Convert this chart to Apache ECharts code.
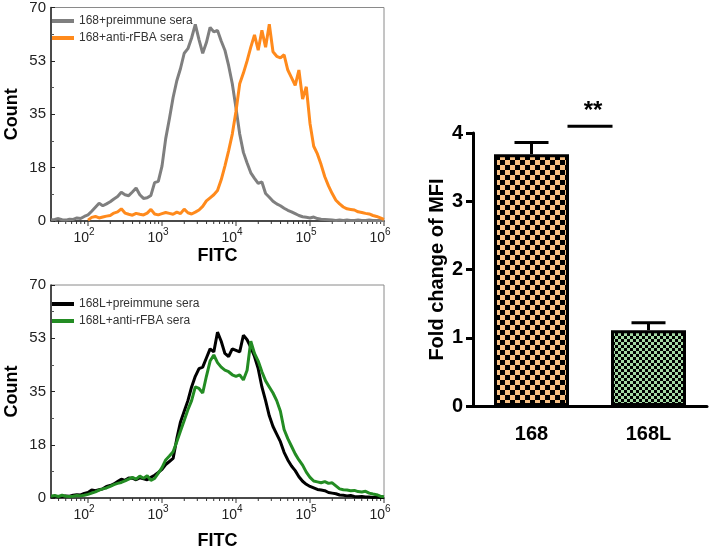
<!DOCTYPE html>
<html>
<head>
<meta charset="utf-8">
<script src="https://cdn.jsdelivr.net/npm/echarts@6.0.0/dist/echarts.min.js"></script>
<style>
    html, body { margin: 0; padding: 0; background: #fff; }
    #main { width: 711px; height: 554px; }
</style>
</head>
<body>
<div id="main"></div>
<script>
// FITC 通道 (log10 值)
const fitcLog = [1.5,1.55,1.6,1.65,1.7,1.75,1.8,1.85,1.9,1.95,
    2,2.05,2.1,2.15,2.2,2.25,2.3,2.35,2.4,2.45,
    2.5,2.55,2.6,2.65,2.7,2.75,2.8,2.85,2.9,2.95,
    3,3.05,3.1,3.15,3.2,3.25,3.3,3.35,3.4,3.45,
    3.5,3.55,3.6,3.65,3.7,3.75,3.8,3.85,3.9,3.95,
    4,4.05,4.1,4.15,4.2,4.25,4.3,4.35,4.4,4.45,
    4.5,4.55,4.6,4.65,4.7,4.75,4.8,4.85,4.9,4.95,
    5,5.05,5.1,5.15,5.2,5.25,5.3,5.35,5.4,5.45,
    5.5,5.55,5.6,5.65,5.7,5.75,5.8,5.85,5.9,5.95,6];

// 168 + preimmune sera
const pre168 = [0.3,0.5,0.8,0.4,0.3,0.6,0.5,1.0,0.8,1.5,
    2.0,3.2,4.5,5.8,5.0,5.6,6.3,7.2,8.0,9.4,
    8.6,8.3,9.5,10.8,8.6,7.4,7.6,8.4,12.6,13.0,
    18.0,27.0,33.5,40.5,46.0,50.0,55.0,56.5,60.0,64.5,
    59.5,55.0,58.5,63.5,62.0,62.5,59.0,56.0,51.0,45.0,
    37.0,28.5,22.5,19.0,15.8,14.0,12.3,12.8,9.0,7.8,
    6.5,5.6,5.0,4.2,3.5,3.0,2.4,1.8,1.4,1.2,
    1.0,1.3,0.8,0.6,0.5,0.4,0.3,0.2,0.3,0.2,
    0.3,0.2,0.2,0.3,0.2,0.2,0.3,0.2,0.2,0.2,0.2];

// 168 + anti-rFBA sera
const anti168 = [null,null,null,null,null,null,null,null,null,null,
    0.3,1.2,1.5,1.0,1.3,1.6,1.8,2.6,3.0,4.0,
    2.6,2.2,1.9,2.5,2.2,2.0,2.6,3.8,2.3,2.0,
    2.4,2.8,2.5,2.2,2.9,2.4,3.9,2.7,2.3,2.9,
    3.6,4.8,6.6,7.6,8.6,10.0,13.5,18.0,23.0,28.5,
    36.0,45.0,48.5,52.5,57.0,61.0,56.0,62.5,57.0,64.5,
    55.5,54.0,53.5,54.5,49.5,47.0,44.5,49.5,40.0,44.0,
    32.0,24.5,22.0,18.5,14.5,11.5,9.0,6.8,5.6,4.6,
    4.0,3.8,3.6,3.0,2.8,2.5,2.3,1.8,1.5,1.0,0.5];

// 168L + preimmune sera
const pre168L = [0.5,0.6,0.4,0.5,0.7,0.6,0.9,1.1,1.0,1.5,
    1.8,2.6,2.4,2.7,3.0,3.8,4.1,4.6,5.4,6.2,
    5.8,6.6,6.5,6.0,6.6,6.3,6.0,6.8,7.5,8.4,
    9.4,11.0,12.0,13.0,19.5,25.0,28.5,32.0,36.5,40.0,
    42.5,43.0,46.0,49.0,48.0,54.5,51.5,47.5,46.5,49.0,
    48.5,48.0,53.5,52.0,49.5,46.5,42.5,36.5,32.0,27.0,
    23.5,21.0,18.5,15.0,12.5,10.5,9.0,7.0,5.5,4.5,
    3.8,3.3,2.8,2.6,2.4,1.8,1.6,1.4,1.0,0.9,
    0.7,0.8,0.5,0.4,0.5,0.3,0.3,0.2,0.3,0.2,0.2];

// 168L + anti-rFBA sera
const anti168L = [0.6,0.8,0.5,0.9,0.6,0.5,0.6,0.8,0.7,0.9,
    1.2,1.6,2.0,2.6,3.0,3.3,3.8,4.4,4.8,5.1,
    5.6,6.2,6.8,6.2,7.2,6.5,7.3,5.8,6.4,8.2,
    10.0,12.5,13.8,15.2,18.5,22.0,25.5,29.0,32.0,36.5,
    36.0,34.5,40.0,45.0,47.0,44.5,43.0,42.0,41.5,40.5,
    40.0,40.5,38.8,42.0,51.5,47.5,45.0,41.5,38.5,36.5,
    34.5,32.0,28.5,22.5,19.5,17.0,14.5,12.5,10.8,8.5,
    6.8,5.6,5.3,5.0,5.4,4.8,5.0,4.0,3.0,2.7,
    2.6,2.4,2.5,2.1,2.0,2.2,1.6,1.3,1.1,0.6,0.4];

// 坐标刻度
const countTicks = [0, 18, 35, 53, 70];
const fitcDecades = [2, 3, 4, 5, 6];

// 柱状图: MFI 倍数变化
const barCats = ['168', '168L'];
const mfiMean = [3.69, 1.11];
const mfiSem = [0.17, 0.11];
const sigLabel = '**';
const sigLevel = 4.1;

const font = 'Liberation Sans, Arial, sans-serif';

// 棋盘格填充
const makeChecker = function(cell, light, dark) {
    let c = document.createElement('canvas');
    c.width = cell * 2;
    c.height = cell * 2;
    let ctx = c.getContext('2d');
    ctx.fillStyle = light;
    ctx.fillRect(0, 0, cell * 2, cell * 2);
    ctx.fillStyle = dark;
    ctx.fillRect(0, 0, cell, cell);
    ctx.fillRect(cell, cell, cell, cell);
    return c;
};
const barPatterns = [makeChecker(5, '#F9C083', '#000'), makeChecker(3, '#A3D9A3', '#000')];

const pairs = function(xs, ys) {
    let out = [];
    for (let i = 0; i < xs.length; i++) {
        if (ys[i] !== null) out.push([xs[i], ys[i]]);
    }
    return out;
};

// 对数次刻度 (2..9 x 10^n)
let logTickData = [];
for (let n = 1; n <= 5; n++) {
    for (let k = 1; k <= 9; k++) {
        let v = Math.log10(k * Math.pow(10, n));
        if (v < 1.5 || v > 6) continue;
        logTickData.push([v, k === 1 ? 5 : 3]);
    }
}
logTickData.push([6, 5]);

const histX = function(g, gap) {
    return {
        gridIndex: g,
        type: 'value',
        min: 1.5,
        max: 6,
        interval: 0.5,
        name: 'FITC',
        nameLocation: 'middle',
        nameGap: gap,
        nameTextStyle: { fontSize: 18, fontWeight: 'bold', color: '#000', fontFamily: font },
        axisLine: { lineStyle: { color: '#222', width: 1.5 } },
        axisTick: { show: false },
        splitLine: { show: false },
        axisLabel: {
            margin: 6,
            padding: [0, 8, 0, 0],
            formatter: function(v) {
                return fitcDecades.indexOf(v) >= 0 ? '{b|10}{s|' + v + '}' : '';
            },
            rich: {
                b: { fontSize: 14, color: '#222', fontFamily: font, lineHeight: 22 },
                s: { fontSize: 10, color: '#222', fontFamily: font, lineHeight: 12, verticalAlign: 'top' }
            }
        }
    };
};

const histY = function(g) {
    return {
        gridIndex: g,
        type: 'value',
        min: 0,
        max: 70,
        interval: 17.5,
        name: 'Count',
        nameLocation: 'middle',
        nameGap: 30,
        nameTextStyle: { fontSize: 18, fontWeight: 'bold', color: '#000', fontFamily: font },
        axisLine: { show: true, lineStyle: { color: '#222', width: 1.5 } },
        axisTick: { show: true, inside: true, length: 4, lineStyle: { color: '#222' } },
        minorTick: { show: true, splitNumber: 2, length: 3, lineStyle: { color: '#555' } },
        splitLine: { show: false },
        axisLabel: {
            fontSize: 15,
            color: '#222',
            fontFamily: font,
            margin: 5,
            formatter: function(v) {
                return countTicks[Math.round(v / 17.5)];
            }
        }
    };
};

const histLine = function(name, g, ys, color) {
    return {
        name: name,
        type: 'line',
        xAxisIndex: g,
        yAxisIndex: g,
        data: pairs(fitcLog, ys),
        showSymbol: false,
        symbol: 'none',
        lineStyle: { color: color, width: 3 },
        itemStyle: { color: color }
    };
};

const tickSeries = function(g) {
    return {
        type: 'custom',
        xAxisIndex: g,
        yAxisIndex: g,
        silent: true,
        data: logTickData,
        renderItem: function(params, api) {
            let p = api.coord([api.value(0), 0]);
            return {
                type: 'line',
                shape: { x1: p[0], y1: p[1], x2: p[0], y2: p[1] + api.value(1) },
                style: { stroke: '#333', lineWidth: 1 }
            };
        }
    };
};

const legendBase = function(names, top) {
    return {
        data: names,
        orient: 'vertical',
        left: 52,
        top: top,
        padding: 0,
        itemWidth: 22,
        itemHeight: 4,
        itemGap: 5,
        icon: 'rect',
        textStyle: { fontSize: 12, color: '#333', fontFamily: font }
    };
};

let myChart = echarts.init(document.getElementById('main'));

let option = {
    animation: false,
    backgroundColor: '#fff',
    legend: [
        legendBase(['168+preimmune sera', '168+anti-rFBA sera'], 15),
        legendBase(['168L+preimmune sera', '168L+anti-rFBA sera'], 298)
    ],
    grid: [
        { left: 51, top: 7, width: 333, height: 214, show: true, borderColor: '#8a8a8a', borderWidth: 1 },
        { left: 51, top: 285, width: 333, height: 213, show: true, borderColor: '#8a8a8a', borderWidth: 1 },
        { left: 473, top: 133, width: 234, height: 273 }
    ],
    xAxis: [
        histX(0, 26),
        histX(1, 34),
        {
            gridIndex: 2,
            type: 'category',
            data: barCats,
            axisLine: { lineStyle: { color: '#000', width: 3 } },
            axisTick: { alignWithLabel: true, length: 9, lineStyle: { color: '#000', width: 3 } },
            axisLabel: { fontSize: 20, fontWeight: 'bold', color: '#000', fontFamily: font, margin: 18 }
        }
    ],
    yAxis: [
        histY(0),
        histY(1),
        {
            gridIndex: 2,
            type: 'value',
            min: 0,
            max: 4,
            interval: 1,
            name: 'Fold change of MFI',
            nameLocation: 'middle',
            nameGap: 25,
            nameTextStyle: { fontSize: 20, fontWeight: 'bold', color: '#000', fontFamily: font },
            axisLine: { show: true, lineStyle: { color: '#000', width: 3 } },
            axisTick: { show: true, length: 7, lineStyle: { color: '#000', width: 3 } },
            splitLine: { show: false },
            axisLabel: { fontSize: 20, fontWeight: 'bold', color: '#000', fontFamily: font, margin: 10 }
        }
    ],
    series: [
        tickSeries(0),
        tickSeries(1),
        histLine('168+preimmune sera', 0, pre168, '#7f7f7f'),
        histLine('168+anti-rFBA sera', 0, anti168, '#FF8A1C'),
        histLine('168L+preimmune sera', 1, pre168L, '#000000'),
        histLine('168L+anti-rFBA sera', 1, anti168L, '#238C23'),
        {
            // 误差线
            type: 'custom',
            xAxisIndex: 2,
            yAxisIndex: 2,
            silent: true,
            z: 1,
            data: mfiMean.map(function(v, i) { return [i, v, v + mfiSem[i]]; }),
            renderItem: function(params, api) {
                let base = api.coord([api.value(0), api.value(1)]);
                let top = api.coord([api.value(0), api.value(2)]);
                let st = { stroke: '#000', lineWidth: 3 };
                return {
                    type: 'group',
                    children: [
                        { type: 'line', shape: { x1: base[0], y1: base[1], x2: top[0], y2: top[1] }, style: st },
                        { type: 'line', shape: { x1: top[0] - 17, y1: top[1], x2: top[0] + 17, y2: top[1] }, style: st }
                    ]
                };
            }
        },
        {
            type: 'bar',
            xAxisIndex: 2,
            yAxisIndex: 2,
            barWidth: 75,
            z: 3,
            data: mfiMean.map(function(v, i) {
                return { value: v, itemStyle: { color: { image: barPatterns[i], repeat: 'repeat' } } };
            }),
            itemStyle: { borderColor: '#000', borderWidth: 3 }
        },
        {
            // 显著性标记
            type: 'custom',
            xAxisIndex: 2,
            yAxisIndex: 2,
            silent: true,
            clip: false,
            data: [[0, 1, sigLevel]],
            renderItem: function(params, api) {
                let a = api.coord([api.value(0), api.value(2)]);
                let b = api.coord([api.value(1), api.value(2)]);
                let x0 = a[0] + 36;
                let x1 = b[0] - 36;
                return {
                    type: 'group',
                    children: [
                        { type: 'line', shape: { x1: x0, y1: a[1], x2: x1, y2: a[1] }, style: { stroke: '#000', lineWidth: 3 } },
                        {
                            type: 'text',
                            style: {
                                text: sigLabel, x: (x0 + x1) / 2 + 3, y: a[1] - 3,
                                align: 'center', verticalAlign: 'bottom',
                                font: 'bold 24px ' + font, fill: '#000'
                            }
                        }
                    ]
                };
            }
        }
    ]
};

myChart.setOption(option);

window.addEventListener('resize', function() {
    myChart.resize();
});
</script>
</body>
</html>
